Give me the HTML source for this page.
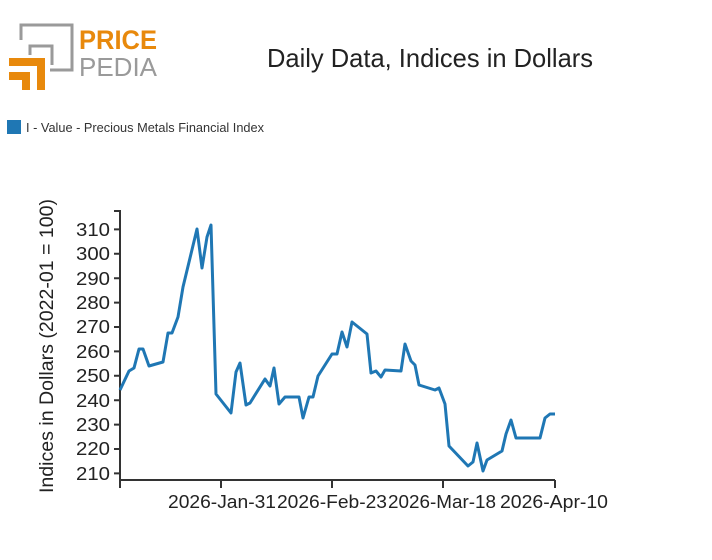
<!DOCTYPE html>
<html><head><meta charset="utf-8"><style>
body{margin:0;background:#fff;width:712px;height:555px;overflow:hidden;font-family:"Liberation Sans",sans-serif;}
</style></head><body>
<svg width="712" height="555" xmlns="http://www.w3.org/2000/svg">
<g fill="none" stroke-width="3">
<path d="M21,40 V25 H72 V70 H50" stroke="#9a9a9a"/>
<path d="M30,55 V46 H52 V65" stroke="#9a9a9a"/>
</g>
<path d="M9,58 H45 V90 H37 V66 H9 Z" fill="#e8890c"/>
<path d="M9,72 H30 V90 H22 V80 H9 Z" fill="#e8890c"/>
<text x="79" y="49" font-size="27" font-weight="bold" fill="#e8890c" textLength="78" lengthAdjust="spacingAndGlyphs">PRICE</text>
<text x="79" y="76" font-size="26" fill="#9a9a9a" textLength="78" lengthAdjust="spacingAndGlyphs">PEDIA</text>
<text x="430" y="67" font-size="26" fill="#222" text-anchor="middle" textLength="326" lengthAdjust="spacingAndGlyphs">Daily Data, Indices in Dollars</text>
<rect x="7" y="120" width="14" height="14" fill="#1f77b4"/>
<text x="26" y="132" font-size="13" fill="#333" textLength="238" lengthAdjust="spacingAndGlyphs">I - Value - Precious Metals Financial Index</text>
<g stroke="#333" stroke-width="2" fill="none">
<path d="M120,210 V480 H555"/>
<path d="M114,229.4h6M114,253.8h6M114,278.2h6M114,302.6h6M114,327h6M114,351.4h6M114,375.8h6M114,400.2h6M114,424.6h6M114,449h6M114,473.4h6M114,211h6"/>
<path d="M120,480v8M221,480v8M332,480v8M443,480v8M555,480v8"/>
</g>
<g font-size="18" fill="#222" text-anchor="end">
<text x="110" y="236" textLength="34" lengthAdjust="spacingAndGlyphs">310</text><text x="110" y="260" textLength="34" lengthAdjust="spacingAndGlyphs">300</text><text x="110" y="285" textLength="34" lengthAdjust="spacingAndGlyphs">290</text><text x="110" y="309" textLength="34" lengthAdjust="spacingAndGlyphs">280</text><text x="110" y="333" textLength="34" lengthAdjust="spacingAndGlyphs">270</text><text x="110" y="358" textLength="34" lengthAdjust="spacingAndGlyphs">260</text><text x="110" y="382" textLength="34" lengthAdjust="spacingAndGlyphs">250</text><text x="110" y="407" textLength="34" lengthAdjust="spacingAndGlyphs">240</text><text x="110" y="431" textLength="34" lengthAdjust="spacingAndGlyphs">230</text><text x="110" y="455" textLength="34" lengthAdjust="spacingAndGlyphs">220</text><text x="110" y="480" textLength="34" lengthAdjust="spacingAndGlyphs">210</text>
</g>
<g font-size="18" fill="#222" text-anchor="middle">
<text x="222" y="508" textLength="108" lengthAdjust="spacingAndGlyphs">2026-Jan-31</text>
<text x="332" y="508" textLength="110" lengthAdjust="spacingAndGlyphs">2026-Feb-23</text>
<text x="442" y="508" textLength="108" lengthAdjust="spacingAndGlyphs">2026-Mar-18</text>
<text x="554" y="508" textLength="108" lengthAdjust="spacingAndGlyphs">2026-Apr-10</text>
</g>
<text transform="translate(53,346) rotate(-90)" font-size="19" fill="#222" text-anchor="middle" textLength="294" lengthAdjust="spacingAndGlyphs">Indices in Dollars (2022-01 = 100)</text>
<polyline fill="none" stroke="#1f77b4" stroke-width="3" stroke-linejoin="round" points="120,390 129,371 134,368 139,349 143,349 149,366 163,362 168,333 172,333 178,317 183,287 197,229 202,268 207,237 211,225 216,394 231,413 236,372 240,363 246,405 250,403 265,379 270,386 274,368 279,404 285,397 299,397 303,418 309,397 313,397 318,376 332,354 337,354 342,332 347,347 352,322 367,334 371,373 376,371 381,377 385,370 401,371 405,344 411,361 415,365 419,385 435,390 439,388 445,404 449,446 468,466 473,462 477,443 483,471 487,460 502,451 506,434 511,420 516,438 540,438 545,418 550,414 555,414"/>
</svg>
</body></html>
